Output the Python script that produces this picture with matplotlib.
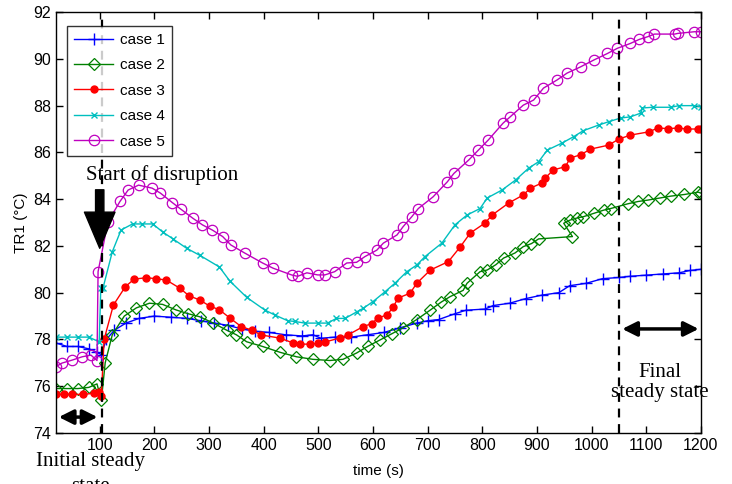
import matplotlib
matplotlib.use("Agg")
import matplotlib.pyplot as plt

# temperature TR1 for the five disruption cases
t1 = [20, 40, 60, 80, 95, 103, 112, 127, 148, 172, 200, 230, 260, 285, 310, 335, 360, 385,
      410, 440, 470, 490, 505, 530, 560, 590, 620, 650, 680, 700, 720, 750, 770, 805, 820,
      850, 880, 910, 940, 960, 990, 1020, 1050, 1070, 1100, 1130, 1160, 1180, 1200]
T1 = [77.85, 77.7, 77.7, 77.6, 77.45, 77.35, 78.0, 78.4, 78.7, 78.9, 79.0, 78.95, 78.9, 78.8,
      78.7, 78.6, 78.45, 78.35, 78.3, 78.2, 78.15, 78.2, 78.05, 78.1, 78.1, 78.2, 78.3, 78.5,
      78.7, 78.8, 78.85, 79.1, 79.25, 79.3, 79.45, 79.55, 79.75, 79.9, 80.0, 80.3, 80.4, 80.6,
      80.65, 80.7, 80.75, 80.8, 80.85, 80.95, 81.0]

t2 = [20, 40, 60, 80, 95, 103, 110, 123, 145, 167, 191, 215, 240, 262, 283, 308, 332, 350,
      369, 398, 430, 460, 490, 521, 545, 570, 590, 613, 635, 655, 680, 705, 725, 741, 765,
      772, 796, 809, 825, 839, 860, 875, 890, 903, 965, 949, 960, 974, 985, 1005, 1022, 1035,
      1066, 1085, 1103, 1125, 1145, 1170, 1195, 1200]
T2 = [75.9, 75.9, 75.9, 75.95, 76.1, 75.4, 77.0, 78.2, 79.0, 79.35, 79.55, 79.5, 79.26, 79.1,
      78.97, 78.7, 78.4, 78.2, 77.9, 77.7, 77.45, 77.26, 77.15, 77.1, 77.15, 77.42, 77.7, 77.98,
      78.25, 78.5, 78.85, 79.26, 79.6, 79.83, 80.1, 80.4, 80.9, 80.97, 81.2, 81.48, 81.7, 81.97,
      82.1, 82.3, 82.4, 82.97, 83.1, 83.2, 83.25, 83.4, 83.53, 83.6, 83.8, 83.9, 83.96, 84.05,
      84.13, 84.2, 84.3, 84.26]

t3 = [20, 35, 50, 70, 90, 98, 103, 108, 125, 147, 163, 185, 203, 222, 246, 264, 283, 301,
      319, 338, 359, 378, 396, 429, 453, 466, 484, 499, 512, 539, 554, 582, 598, 609, 626,
      637, 646, 668, 680, 705, 738, 760, 778, 805, 818, 848, 875, 888, 910, 915, 930, 952,
      961, 980, 998, 1031, 1050, 1071, 1105, 1121, 1140, 1158, 1175, 1195, 1200]
T3 = [75.65, 75.65, 75.65, 75.65, 75.7, 75.75, 75.6, 78.0, 79.47, 80.26, 80.58, 80.64, 80.6,
      80.54, 80.2, 79.86, 79.69, 79.43, 79.27, 78.92, 78.55, 78.4, 78.19, 78.06, 77.86, 77.8,
      77.8, 77.83, 77.89, 78.06, 78.19, 78.55, 78.68, 78.92, 79.05, 79.39, 79.77, 79.98, 80.4,
      80.97, 81.33, 81.97, 82.55, 82.98, 83.32, 83.83, 84.18, 84.47, 84.7, 84.9, 85.25, 85.39,
      85.76, 85.9, 86.14, 86.31, 86.57, 86.74, 86.88, 87.04, 87.02, 87.04, 87.0, 87.0, 87.0]

t4 = [20, 40, 60, 80, 99, 102, 106, 123, 139, 160, 178, 197, 215, 234, 259, 283, 319, 338,
      369, 402, 420, 444, 457, 475, 499, 517, 533, 549, 571, 582, 600, 622, 640, 662, 680,
      695, 726, 750, 772, 796, 809, 836, 861, 885, 903, 919, 946, 967, 985, 1013, 1031, 1053,
      1071, 1090, 1093, 1112, 1145, 1160, 1188, 1200]
T4 = [78.1, 78.1, 78.1, 78.1, 77.9, 80.2, 80.2, 81.75, 82.68, 82.94, 82.94, 82.94, 82.6, 82.3,
      81.9, 81.6, 81.1, 80.5, 79.8, 79.26, 79.05, 78.8, 78.77, 78.7, 78.7, 78.7, 78.9, 78.9,
      79.19, 79.33, 79.62, 80.04, 80.4, 80.9, 81.18, 81.54, 82.12, 82.9, 83.32, 83.6, 84.05,
      84.39, 84.82, 85.33, 85.6, 86.1, 86.4, 86.67, 86.93, 87.17, 87.31, 87.47, 87.52, 87.68,
      87.9, 87.93, 87.93, 88.0, 88.0, 87.95]

t5 = [20, 31, 50, 68, 84, 95, 97, 115, 137, 152, 171, 196, 211, 233, 248, 270, 288, 306,
      325, 340, 365, 398, 417, 451, 462, 479, 499, 512, 530, 552, 570, 585, 607, 619, 644,
      655, 671, 683, 710, 736, 748, 775, 793, 811, 838, 851, 875, 894, 912, 937, 955, 980,
      1004, 1029, 1047, 1071, 1087, 1103, 1115, 1152, 1158, 1188, 1200]
T5 = [76.84, 76.99, 77.12, 77.26, 77.33, 77.1, 80.9, 83.03, 83.9, 84.39, 84.6, 84.47, 84.26,
      83.85, 83.58, 83.19, 82.9, 82.68, 82.4, 82.04, 81.7, 81.27, 81.05, 80.76, 80.7, 80.85,
      80.76, 80.76, 80.9, 81.27, 81.3, 81.54, 81.82, 82.12, 82.47, 82.82, 83.25, 83.6, 84.1,
      84.74, 85.1, 85.67, 86.1, 86.53, 87.25, 87.52, 88.02, 88.24, 88.75, 89.1, 89.39, 89.66,
      89.95, 90.23, 90.45, 90.66, 90.83, 90.95, 91.06, 91.06, 91.09, 91.16, 91.16]

labels = ["case 1", "case 2", "case 3", "case 4", "case 5"]
xticks = [100, 200, 300, 400, 500, 600, 700, 800, 900, 1000, 1100, 1200]
yticks = [74, 76, 78, 80, 82, 84, 86, 88, 90, 92]

sans = ["Liberation Sans", "DejaVu Sans"]
serif = ["Liberation Serif", "DejaVu Serif"]
plt.rcParams["font.family"] = sans

fig = plt.figure(figsize=(7.32, 4.84), dpi=100)
ax = fig.add_axes([0.0765, 0.1054, 0.881, 0.8696])

ax.plot(t1, T1, color=(0, 0, 1), lw=1, marker="+", ms=9, mew=1, label=labels[0])
ax.plot(t2, T2, color=(0, 0.5, 0), lw=1, marker="D", ms=6, mew=0.9, mfc="none", label=labels[1])
ax.plot(t3, T3, color=(1, 0, 0), lw=1, marker=".", ms=10, label=labels[2])
ax.plot(t4, T4, color=(0, 0.75, 0.75), lw=1, marker="x", ms=4, mew=1, label=labels[3])
ax.plot(t5, T5, color=(0.75, 0, 0.75), lw=1, marker="o", ms=7.5, mew=0.9, mfc="none", label=labels[4])

ax.axvline(105, color="k", ls=(0, (4, 3)), lw=1.6)
ax.axvline(1050, color="k", ls=(0, (4, 3)), lw=1.6)

ax.set_xlim(20, 1200)
ax.set_ylim(74, 92)
ax.set_xticks(xticks)
ax.set_yticks(yticks)
ax.tick_params(direction="in", top=True, right=True, labelsize=11.5, length=5, width=1)
for s in ax.spines.values():
    s.set_linewidth(1)
ax.set_xlabel("time (s)", fontsize=11, labelpad=8)
ax.set_ylabel("TR1 (°C)", fontsize=11, labelpad=4)

leg = ax.legend(loc="upper left", bbox_to_anchor=(0.005, 0.985), fontsize=11,
                frameon=True, fancybox=False, edgecolor="k", handlelength=2.6,
                borderpad=0.45, labelspacing=0.75, handletextpad=0.45)
leg.get_frame().set_linewidth(1)

# annotations
ax.text(215, 85.05, "Start of disruption", family=serif, fontsize=15, ha="center", va="center")
ax.annotate("", xy=(100, 81.9), xytext=(100, 84.4),
            arrowprops=dict(facecolor="k", edgecolor="k", width=6, headwidth=22, headlength=26))
ax.annotate("", xy=(20, 74.68), xytext=(101, 74.68),
            arrowprops=dict(arrowstyle="<|-|>", color="k", lw=2.5, mutation_scale=22))
ax.annotate("", xy=(1051, 78.45), xytext=(1201, 78.45),
            arrowprops=dict(arrowstyle="<|-|>", color="k", lw=2.5, mutation_scale=22))
ax.text(1125, 76.15, "Final\nsteady state", family=serif, fontsize=15, ha="center", va="center",
        linespacing=1.1)
fig.text(0.124, 0.066, "Initial steady\nstate", family=serif, fontsize=15, ha="center", va="top",
         linespacing=1.4)

fig.savefig("out.png", dpi=100)
